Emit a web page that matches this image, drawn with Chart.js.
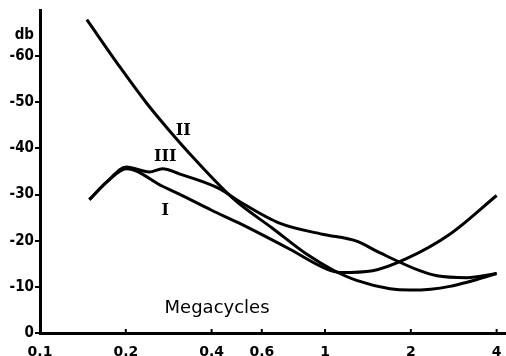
<!DOCTYPE html>
<html>
<head>
<meta charset="utf-8">
<script src="https://cdn.jsdelivr.net/npm/chart.js@4"></script>
<style>
  html, body { margin: 0; padding: 0; background: #fff; }
</style>
</head>
<body>
<canvas id="chart" width="506" height="356"></canvas>
<script>
// values
const xTicks = [0.1, 0.2, 0.4, 0.6, 1, 2, 4];
const yTicks = [0, 10, 20, 30, 40, 50, 60];

const mcI  = [0.149, 0.172, 0.201, 0.269, 0.308, 0.40, 0.50, 0.75, 1.01, 1.13, 1.47, 1.93, 2.74, 4.0];
const dbI  = [28.9, 32.8, 35.6, 31.8, 30.1, 26.6, 23.8, 18.2, 13.9, 13.1, 13.5, 16.1, 21.4, 29.8];

const mcII = [0.146, 0.194, 0.236, 0.284, 0.35, 0.481, 0.654, 0.861, 1.062, 1.29, 1.69, 1.98, 2.35, 2.74, 3.15, 4.0];
const dbII = [67.9, 57.0, 49.9, 43.9, 37.6, 28.9, 22.7, 17.1, 13.7, 11.4, 9.6, 9.3, 9.5, 10.1, 11.0, 12.9];

const mcIII = [0.149, 0.172, 0.201, 0.242, 0.269, 0.308, 0.426, 0.501, 0.692, 0.98, 1.29, 1.555, 2.15, 2.47, 3.14, 4.0];
const dbIII = [28.9, 32.8, 36.0, 34.9, 35.6, 34.5, 31.3, 28.5, 23.8, 21.4, 19.9, 17.4, 13.5, 12.4, 12.0, 12.9];

const curveNames = ['I', 'II', 'III'];
// where the roman numerals sit (MHz, db)
const nameAt = [[0.275, 26.4], [0.318, 43.9], [0.275, 38.1]];

const pts = (xs, ys) => xs.map((x, i) => ({ x: x, y: ys[i] }));

const lineStyle = {
    borderColor: '#000',
    borderWidth: 3,
    pointRadius: 0,
    fill: false,
    cubicInterpolationMode: 'monotone'
};

const labelsPlugin = {
    id: 'labels',
    afterDraw(chart) {
        const c = chart.ctx, xs = chart.scales.x, ys = chart.scales.y;
        c.save();
        c.fillStyle = '#000';
        c.strokeStyle = '#000';
        // little tick stubs standing on the x axis
        c.lineWidth = 2;
        xTicks.forEach(v => {
            const px = xs.getPixelForValue(v);
            c.beginPath();
            c.moveTo(px, ys.bottom);
            c.lineTo(px, ys.bottom - 4);
            c.stroke();
        });
        c.textAlign = 'center';
        c.textBaseline = 'middle';
        c.font = 'bold 16px "DejaVu Serif"';
        curveNames.forEach((n, i) => {
            c.fillText(n, xs.getPixelForValue(nameAt[i][0]), ys.getPixelForValue(nameAt[i][1]));
        });
        c.font = '18px "DejaVu Sans"';
        c.fillText('Megacycles', xs.getPixelForValue(0.418), ys.getPixelForValue(5.4));
        c.font = 'bold 15px "DejaVu Sans Condensed", "DejaVu Sans"';
        c.textAlign = 'right';
        c.fillText('db', ys.right - 6, ys.getPixelForValue(64.5));
        c.restore();
    }
};

new Chart(document.getElementById('chart'), {
    type: 'line',
    data: {
        datasets: [
            Object.assign({ label: 'I', data: pts(mcI, dbI) }, lineStyle),
            Object.assign({ label: 'II', data: pts(mcII, dbII) }, lineStyle),
            Object.assign({ label: 'III', data: pts(mcIII, dbIII) }, lineStyle)
        ]
    },
    options: {
        responsive: false,
        animation: false,
        layout: { padding: { top: 6, right: 1, left: 0, bottom: 0 } },
        plugins: {
            legend: { display: false },
            tooltip: { enabled: false }
        },
        scales: {
            x: {
                type: 'logarithmic',
                min: 0.1,
                max: 4.28,
                afterBuildTicks: s => { s.ticks = xTicks.map(v => ({ value: v })); },
                afterFit: s => { s.height = 23; },
                grid: { display: false },
                border: { display: true, color: '#000', width: 3 },
                ticks: {
                    autoSkip: false,
                    maxRotation: 0,
                    padding: 3,
                    color: '#000',
                    font: { family: '"DejaVu Sans"', weight: 'bold', size: 14 },
                    callback: v => String(v)
                }
            },
            y: {
                type: 'linear',
                min: 0,
                max: 70,
                afterBuildTicks: s => { s.ticks = yTicks.map(v => ({ value: v })); },
                afterFit: s => { s.width = 40; },
                grid: { drawOnChartArea: false, drawTicks: true, tickLength: 5, color: '#000', lineWidth: 2 },
                border: { display: true, color: '#000', width: 3 },
                ticks: {
                    padding: 1,
                    color: '#000',
                    font: { family: '"DejaVu Sans Condensed", "DejaVu Sans"', weight: 'bold', size: 15 },
                    callback: v => v === 0 ? '0' : '-' + v
                }
            }
        }
    },
    plugins: [labelsPlugin]
});
</script>
</body>
</html>
